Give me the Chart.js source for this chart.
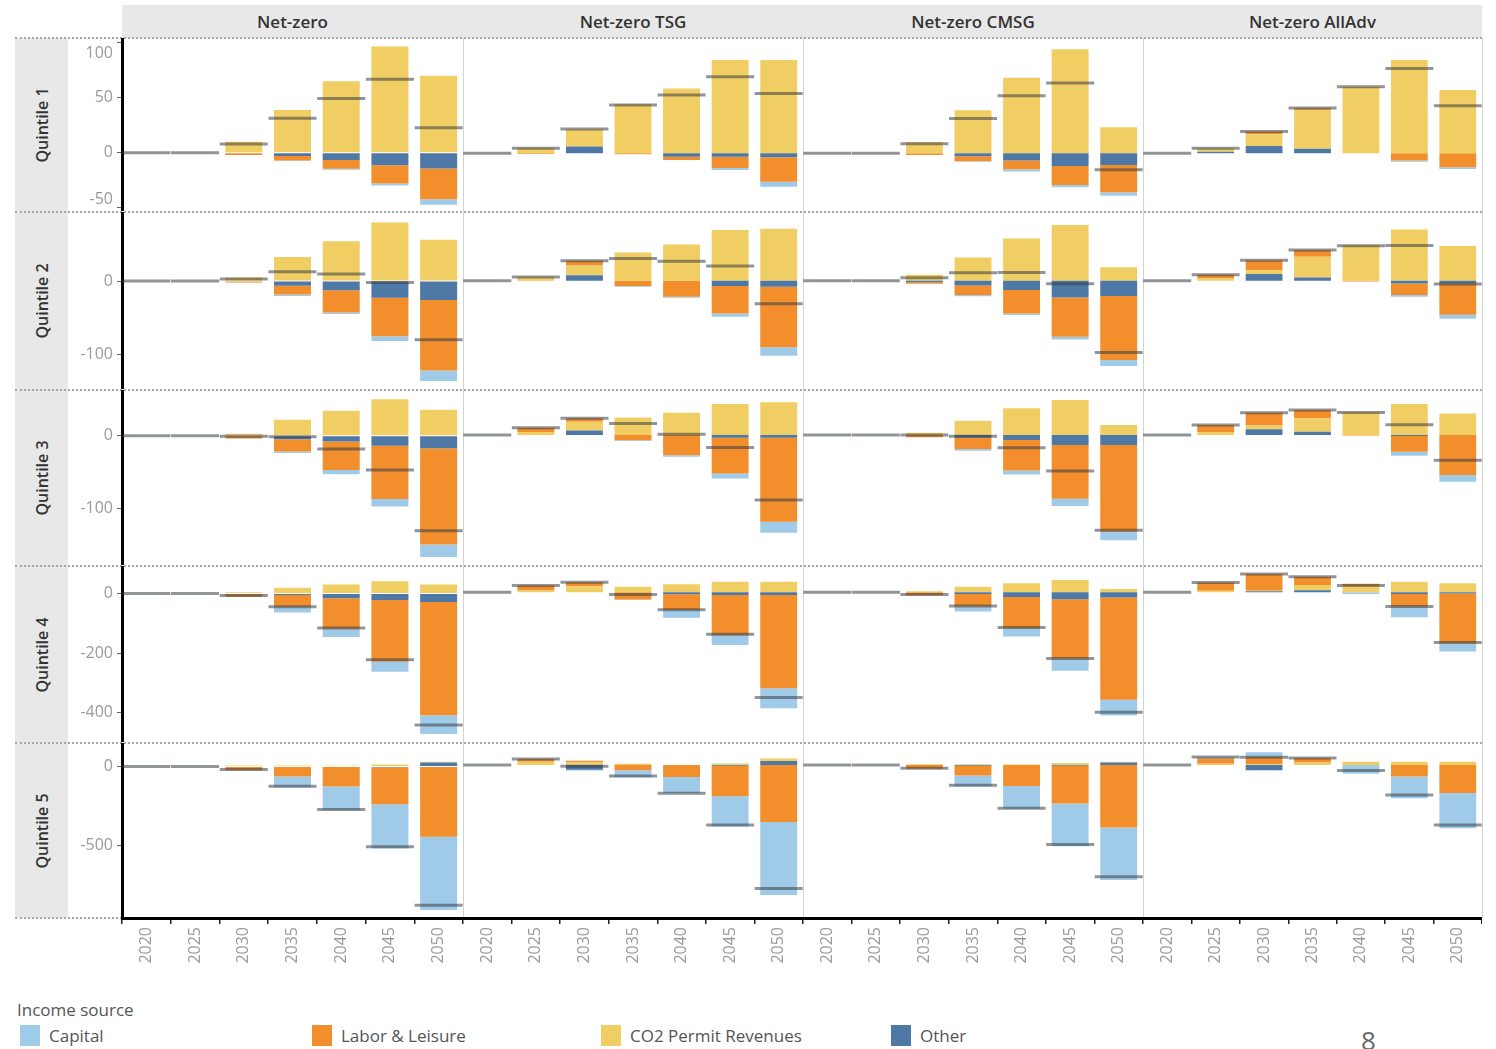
<!DOCTYPE html>
<html>
<head>
<meta charset="utf-8">
<title>Income change by source and quintile</title>
<script src="https://cdn.jsdelivr.net/npm/chart.js@4.4.1/dist/chart.umd.min.js"></script>
<style>
  html, body { margin: 0; padding: 0; background: #fff; }
  body { width: 1496px; height: 1049px; position: relative; overflow: hidden; font-family: "Open Sans", "DejaVu Sans", sans-serif; }
  canvas { position: absolute; }
  .headbar { position: absolute; top: 5px; height: 33px; background: #e8e8e8; }
  .colhead { position: absolute; top: 5px; height: 33px; line-height: 33px; text-align: center; font-size: 17px; font-weight: 600; color: #333; }
  .rowhead { position: absolute; left: 15px; width: 53px; background: #e8e8e8; }
  .rowhead span { position: absolute; left: 50%; top: 50%; transform: translate(-50%, -50%) rotate(-90deg); white-space: nowrap; font-size: 16px; font-weight: 600; color: #333; }
  .hsep { position: absolute; height: 0; border-top: 2px dotted #a6a6a6; }
  .vsep { position: absolute; width: 1px; background: #d3d3d3; }
  .legtitle { position: absolute; left: 17px; top: 998px; font-size: 17px; color: #555; }
  .legitem { position: absolute; top: 1025px; font-size: 17px; color: #555; line-height: 22px; }
  .legitem i { display: inline-block; width: 20px; height: 21px; vertical-align: top; margin-right: 9px; }
  .pageno { position: absolute; left: 1361px; top: 1022px; font-size: 26px; color: #666; }
</style>
</head>
<body>
<script>
// Categories
const YEARS = ['2020', '2025', '2030', '2035', '2040', '2045', '2050'];
const SCENARIOS = ['Net-zero', 'Net-zero TSG', 'Net-zero CMSG', 'Net-zero AllAdv'];
const QUINTILES = ['Quintile 1', 'Quintile 2', 'Quintile 3', 'Quintile 4', 'Quintile 5'];
const SOURCES = ['Capital', 'Labor & Leisure', 'CO2 Permit Revenues', 'Other'];

// Y axis tick labels per quintile row
const Y_TICKS = [[-50, 0, 50, 100], [-100, 0], [-100, 0], [-400, -200, 0], [-500, 0]];
const Y_MIN = [-52.4, -147, -176, -496, -956];
const Y_MAX = [103, 92.5, 60.6, 86.5, 137.5];

// Series values: each array holds one row of 7 years per scenario
// (Net-zero, Net-zero TSG, Net-zero CMSG, Net-zero AllAdv)
const Q1_OTHER = [[0, 0, 0, -3, -6.5, -11.3, -14.3], [0, 0, 6, 0, -3, -3, -3.6], [0, 0, 0, -2.5, -6.5, -11.3, -10.4], [0, 1.5, 6.5, 4, 0, 0, 0]];
const Q1_CO2 = [[0, 0, 10, 39, 65, 96.7, 70], [0, 5, 15.7, 44, 58, 83.3, 83.3], [0, 0, 10, 38.5, 67.6, 93, 23.2], [0, 3, 10.5, 35, 59.5, 83.3, 56.5]];
const Q1_LABOR = [[0, 0, -2, -4, -8, -16.7, -28], [0, -0.5, 0, -0.8, -3, -10, -21.7], [0, 0, -1.5, -4.5, -7.7, -17, -24.4], [0, 0, 2.4, 1.5, 0, -6.5, -12.5]];
const Q1_CAPITAL = [[0, 0, 0, -0.5, -1, -1.8, -5], [0, 0, 0, 0, 0, -2, -4.5], [0, 0, 0, -0.5, -2, -2, -3], [0, 0, 0, 0, 0, -1, -1.5]];

const Q2_OTHER = [[0, 0, 0, -6.3, -12.6, -22.9, -26], [0, 0, 7.5, 0, 0, -7.2, -8], [0, 0, -2, -6.3, -12.6, -22.4, -20.6], [0, 0, 9, 4.5, 0, -3.6, -3.6]];
const Q2_CO2 = [[0, 0, 5, 33, 54.7, 80.3, 56.5], [0, 5.5, 13, 38, 48.9, 68.2, 70], [0, 0, 8, 31.4, 57, 75, 18], [0, 3, 5, 27.8, 48, 69, 46.6]];
const Q2_LABOR = [[0, 0, -2, -12, -30.5, -52.5, -96.4], [0, -0.5, 6.5, -7, -21.5, -36.8, -81.6], [0, 0, -2, -13, -31.4, -52.9, -86], [0, 5, 13.5, 9, -1, -15.7, -42]];
const Q2_CAPITAL = [[0, 0, 0, -2, -2, -6.7, -14.3], [0, 0, 0, -1, -1.3, -4.5, -11.2], [0, 0, 0, -1.5, -2, -3.6, -8], [0, 0, 0, 0, 0, -2.2, -5.4]];

const Q3_OTHER = [[0, 0, 0, -4.5, -7.6, -13.5, -17], [0, 0, 6, 0, 0, -3.6, -3.6], [0, 0, 0, -3.6, -6.7, -13.5, -13.5], [0, 0, 8, 4.5, 0, -1.3, 0]];
const Q3_CO2 = [[0, 0, 3, 22, 34.5, 50.2, 35.9], [0, 4, 12, 23.5, 30, 41.7, 44], [0, 0, 3, 19.3, 35.9, 47, 13.5], [0, 4, 5, 18, 31, 41.7, 29]];
const Q3_LABOR = [[0, 0, -3.5, -17, -39, -73, -131.8], [0, 6, 4.5, -7, -27, -48, -113], [0, 0, -3, -15.2, -41, -72, -116.6], [0, 9.5, 17, 11.2, -0.5, -21, -53.8]];
const Q3_CAPITAL = [[0, 0, 0, -1.8, -5.8, -10.3, -17], [0, 0, 0, -1, -2, -6.7, -14.8], [0, 0, 0, -2.2, -5.4, -9.9, -11.2], [0, 0, 0, 0, 0, -5.4, -9]];

const Q4_OTHER = [[0, 0, 0, -5.5, -16.4, -21.9, -28.5], [0, 0, 0, 0, -6.6, -8.8, -8.8], [0, 0, 0, -5.5, -15.3, -23, -17.5], [0, 0, 3, 7, 0, -5.5, -4.4]];
const Q4_CO2 = [[0, 0, 4, 18.6, 29.6, 40.5, 29.6], [0, 6, 20, 18, 26.3, 35, 35], [0, 0, 3, 18.6, 29.6, 40.5, 11], [0, 5, 2, 17, 20, 35, 29.6]];
const Q4_LABOR = [[0, 0, -11, -39.5, -102, -206, -380], [0, 16, 13, -24, -51.5, -131.5, -306.8], [0, 0, -10, -41.6, -103, -196, -336.4], [0, 27, 55, 27, 8, -41.6, -163]];
const Q4_CAPITAL = [[0, 0, 0, -18.6, -27.4, -35, -62.5], [0, 0, 0, -1, -26, -32.9, -65.8], [0, 0, 0, -16.4, -27.4, -39.5, -52], [0, 0, 0, 0, -6, -35, -27.4]];

const Q5_OTHER = [[0, 0, 0, -4, 0, -6, 25], [0, 0, -30, 0, 0, -5, 25], [0, 0, 0, -4, 0, -5, 15], [0, 0, -32, 0, 0, 0, 0]];
const Q5_CO2 = [[0, 0, 5, 6, 4, 12, 5], [0, 20, 15, 8, 0, 10, 15], [0, 0, 4, 5, 3, 12, 5], [0, 8, 5, 15, 20, 20, 20]];
const Q5_LABOR = [[0, 0, -25, -60, -127, -233, -444], [0, 18, 12, -32, -75, -190, -356], [0, 0, -24, -62, -131, -235, -390], [0, 32, 45, 28, 0, -72, -175]];
const Q5_CAPITAL = [[0, 0, 0, -67, -148, -279, -462], [0, 0, -5, -45, -102, -190, -456], [0, 0, 0, -66, -143, -268, -328], [0, 10, 30, 0, -55, -136, -220]];

const OTHER = [Q1_OTHER, Q2_OTHER, Q3_OTHER, Q4_OTHER, Q5_OTHER];
const CO2 = [Q1_CO2, Q2_CO2, Q3_CO2, Q4_CO2, Q5_CO2];
const LABOR = [Q1_LABOR, Q2_LABOR, Q3_LABOR, Q4_LABOR, Q5_LABOR];
const CAPITAL = [Q1_CAPITAL, Q2_CAPITAL, Q3_CAPITAL, Q4_CAPITAL, Q5_CAPITAL];

// Styling
const COLORS = { capital: '#a0cbe8', labor: '#f28e2b', co2: '#f1ce63', other: '#4e79a7' };
const NET_COLOR = 'rgba(55, 60, 70, 0.55)';
const FONT = '"Open Sans", "DejaVu Sans", sans-serif';

// Panel grid geometry (plot-area edges)
const COL_X = [122, 463, 803, 1143, 1482];
const ROW_Y = [38, 212, 390, 566, 743, 918];
const PAD = 12, AXIS_W = 54, AXIS_H = 62;

// Keeps the outermost y tick labels inside their own panel
const keepLabelsInPanel = {
  id: 'keepLabelsInPanel',
  beforeDraw(chart) {
    const sc = chart.scales.y;
    if (!sc || !sc.options.display) return;
    sc.getLabelItems(chart.chartArea).forEach((item) => {
      const t = item.options.translation;
      t[1] = Math.min(Math.max(t[1], sc.top + 14), sc.bottom - 11);
    });
  }
};

function el(tag, cls, style, text) {
  const e = document.createElement(tag);
  if (cls) e.className = cls;
  if (style) Object.assign(e.style, style);
  if (text != null) e.textContent = text;
  document.body.appendChild(e);
  return e;
}

// Column headers
el('div', 'headbar', { left: COL_X[0] + 'px', width: (COL_X[4] - COL_X[0]) + 'px' });
SCENARIOS.forEach((name, s) => {
  el('div', 'colhead', { left: COL_X[s] + 'px', width: (COL_X[s + 1] - COL_X[s]) + 'px' }, name);
});

// Row headers
QUINTILES.forEach((name, q) => {
  const d = el('div', 'rowhead', { top: ROW_Y[q] + 'px', height: (ROW_Y[q + 1] - ROW_Y[q]) + 'px' });
  const sp = document.createElement('span');
  sp.textContent = name;
  d.appendChild(sp);
});

// Column dividers
for (let s = 1; s < COL_X.length; s++) {
  el('div', 'vsep', { left: COL_X[s] + 'px', top: ROW_Y[0] + 'px', height: (ROW_Y[5] - ROW_Y[0]) + 'px' });
}
// Row dividers
for (let q = 0; q < ROW_Y.length - 1; q++) {
  el('div', 'hsep', { left: '15px', top: (ROW_Y[q] - 1) + 'px', width: (COL_X[4] - 15) + 'px' });
}
el('div', 'hsep', { left: '15px', top: (ROW_Y[5] - 1) + 'px', width: (COL_X[0] - 15) + 'px' });

function buildPanel(q, s) {
  const isLeft = s === 0;
  const isBottom = q === QUINTILES.length - 1;
  const areaW = COL_X[s + 1] - COL_X[s];
  const areaH = ROW_Y[q + 1] - ROW_Y[q];
  const cw = areaW + (isLeft ? AXIS_W : 0);
  const ch = areaH + PAD + (isBottom ? AXIS_H : PAD);

  const canvas = document.createElement('canvas');
  canvas.width = cw;
  canvas.height = ch;
  canvas.style.left = (COL_X[s] - (isLeft ? AXIS_W : 0)) + 'px';
  canvas.style.top = (ROW_Y[q] - PAD) + 'px';
  canvas.style.width = cw + 'px';
  canvas.style.height = ch + 'px';
  document.body.appendChild(canvas);

  const other = OTHER[q][s], co2 = CO2[q][s], labor = LABOR[q][s], capital = CAPITAL[q][s];
  const net = YEARS.map((_, i) => other[i] + co2[i] + labor[i] + capital[i]);

  new Chart(canvas, {
    type: 'bar',
    plugins: [keepLabelsInPanel],
    data: {
      labels: YEARS,
      datasets: [
        {
          type: 'line', label: 'Net', data: net, stack: 'net',
          showLine: false, pointStyle: 'line', pointRadius: 24, pointHoverRadius: 24,
          pointBorderWidth: 3, pointBorderColor: NET_COLOR, borderColor: NET_COLOR,
          pointBackgroundColor: NET_COLOR
        },
        { label: SOURCES[3], data: other, backgroundColor: COLORS.other, stack: 'income' },
        { label: SOURCES[2], data: co2, backgroundColor: COLORS.co2, stack: 'income' },
        { label: SOURCES[1], data: labor, backgroundColor: COLORS.labor, stack: 'income' },
        { label: SOURCES[0], data: capital, backgroundColor: COLORS.capital, stack: 'income' }
      ]
    },
    options: {
      responsive: false,
      animation: false,
      events: [],
      layout: { autoPadding: false, padding: { top: PAD, bottom: isBottom ? 0 : PAD, left: 0, right: 0 } },
      datasets: { bar: { barPercentage: 0.76, categoryPercentage: 1 } },
      plugins: { legend: { display: false }, tooltip: { enabled: false } },
      scales: {
        x: {
          stacked: true,
          display: isBottom,
          afterFit: (sc) => { if (isBottom) sc.height = AXIS_H; },
          grid: { display: true, offset: true, drawOnChartArea: false, drawTicks: true, tickLength: 6, color: '#222', lineWidth: 1.5 },
          border: { display: true, color: '#000', width: 3 },
          ticks: { autoSkip: false, minRotation: 90, maxRotation: 90, padding: 3, color: '#9a9a9a', font: { family: FONT, size: 16 } }
        },
        y: {
          stacked: true,
          display: isLeft,
          min: Y_MIN[q],
          max: Y_MAX[q],
          afterFit: (sc) => { if (isLeft) sc.width = AXIS_W; },
          afterBuildTicks: (sc) => { sc.ticks = Y_TICKS[q].map(v => ({ value: v })); },
          grid: { display: true, drawOnChartArea: false, drawTicks: true, tickLength: 5, color: '#666', lineWidth: 1 },
          border: { display: true, color: '#000', width: 3 },
          ticks: { padding: 4, color: '#9a9a9a', font: { family: FONT, size: 16 }, callback: (v) => String(v) }
        }
      }
    }
  });
}

for (let q = 0; q < QUINTILES.length; q++) {
  for (let s = 0; s < SCENARIOS.length; s++) buildPanel(q, s);
}

// Legend
el('div', 'legtitle', null, 'Income source');
const LEGEND_X = [20, 312, 601, 891];
const LEGEND_COLORS = [COLORS.capital, COLORS.labor, COLORS.co2, COLORS.other];
SOURCES.forEach((name, i) => {
  const item = el('div', 'legitem', { left: LEGEND_X[i] + 'px' });
  const sw = document.createElement('i');
  sw.style.background = LEGEND_COLORS[i];
  item.appendChild(sw);
  item.appendChild(document.createTextNode(name));
});
el('div', 'pageno', null, '8');
</script>
</body>
</html>
